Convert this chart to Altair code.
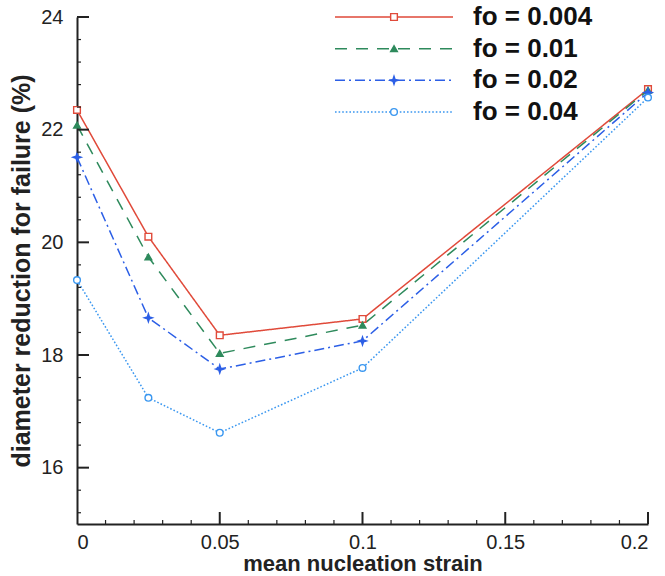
import altair as alt
import pandas as pd

# Mean nucleation strain (x) and diameter reduction at failure (%) per void volume fraction
strain = [0.0, 0.025, 0.05, 0.1, 0.2]
series_names = ["fo = 0.004", "fo = 0.01", "fo = 0.02", "fo = 0.04"]
fo_0004 = [22.35, 20.10, 18.35, 18.64, 22.72]
fo_001 = [22.08, 19.74, 18.03, 18.53, 22.70]
fo_002 = [21.51, 18.66, 17.75, 18.25, 22.66]
fo_004 = [19.33, 17.24, 16.62, 17.77, 22.57]

x_major = [0.0, 0.05, 0.1, 0.15, 0.2]
y_major = [16, 18, 20, 22, 24]
x_minor = [round(0.01 * i, 2) for i in range(1, 20) if i % 5 != 0]
y_minor = [round(15.2 + 0.4 * i, 1) for i in range(22) if (i - 2) % 5 != 0]

colors = ["#e04a3a", "#2e8a5c", "#2c5fe6", "#3a97f0"]
dashes = [[1, 0], [12, 9], [10, 4, 2, 4], [1.6, 2]]
star = "M0,-1.2L0.3,-0.3L1.2,0L0.3,0.3L0,1.2L-0.3,0.3L-1.2,0L-0.3,-0.3Z"
shapes = ["square", "triangle-up", star, "circle"]
fills = ["white", "#2e8a5c", "#2c5fe6", "white"]

rows = []
for name, vals in zip(series_names, [fo_0004, fo_001, fo_002, fo_004]):
    for s, v in zip(strain, vals):
        rows.append({"series": name, "strain": s, "value": v})
df = pd.DataFrame(rows)
legend_df = pd.DataFrame({"series": series_names})

W, H = 571, 507
FONT = "Liberation Sans"
INK = "#222222"

x_scale = alt.Scale(domain=[0, 0.2], nice=False, zero=False)
y_scale = alt.Scale(domain=[15, 24], nice=False, zero=False)
color_scale = alt.Scale(domain=series_names, range=colors)
dash_scale = alt.Scale(domain=series_names, range=dashes)
shape_scale = alt.Scale(domain=series_names, range=shapes)
fill_scale = alt.Scale(domain=series_names, range=fills)

x_enc = alt.X(
    "strain:Q", scale=x_scale,
    axis=alt.Axis(
        values=x_major, format=".2~f", ticks=False, tickSize=0, grid=False,
        domainColor=INK, domainWidth=2, labelFont=FONT, labelFontSize=20,
        labelColor=INK, labelPadding=8, title="mean nucleation strain",
        titleFont=FONT, titleFontSize=22, titleFontWeight="bold", titleColor=INK,
        titleBaseline="middle", titleY=39,
    ),
)
y_enc = alt.Y(
    "value:Q", scale=y_scale,
    axis=alt.Axis(
        values=y_major, format="d", ticks=False, tickSize=0, grid=False,
        domainColor=INK, domainWidth=2, labelFont=FONT, labelFontSize=20,
        labelColor=INK, labelPadding=14, title="diameter reduction for failure (%)",
        titleFont=FONT, titleFontSize=25, titleFontWeight="bold", titleColor=INK,
        titleAngle=270, titleBaseline="middle", titleAlign="center",
        titleX=-56, titleY=H / 2,
    ),
)

lines = alt.Chart(df).mark_line(strokeWidth=1.5).encode(
    x=x_enc, y=y_enc,
    color=alt.Color("series:N", scale=color_scale, legend=None),
    strokeDash=alt.StrokeDash("series:N", scale=dash_scale, legend=None),
    detail="series:N",
)
points = alt.Chart(df).mark_point(size=45, strokeWidth=1.4, opacity=1).encode(
    x="strain:Q", y="value:Q",
    stroke=alt.Stroke("series:N", scale=color_scale, legend=None),
    fill=alt.Fill("series:N", scale=fill_scale, legend=None),
    shape=alt.Shape("series:N", scale=shape_scale, legend=None),
)

# inward-pointing tick marks on both axes
y_ticks_major = alt.Chart(pd.DataFrame({"value": y_major})).mark_rule(
    color=INK, strokeWidth=2).encode(y="value:Q", x=alt.value(0), x2=alt.value(12))
y_ticks_minor = alt.Chart(pd.DataFrame({"value": y_minor})).mark_rule(
    color=INK, strokeWidth=1.2).encode(y="value:Q", x=alt.value(0), x2=alt.value(4))
x_ticks_major = alt.Chart(pd.DataFrame({"strain": x_major[1:]})).mark_rule(
    color=INK, strokeWidth=2).encode(x="strain:Q", y=alt.value(H), y2=alt.value(H - 12))
x_ticks_minor = alt.Chart(pd.DataFrame({"strain": x_minor})).mark_rule(
    color=INK, strokeWidth=1.2).encode(x="strain:Q", y=alt.value(H), y2=alt.value(H - 4))

plot = alt.layer(lines, points, y_ticks_major, y_ticks_minor, x_ticks_major, x_ticks_minor)

# legend block in the upper right
leg_y = alt.Y("series:N", scale=alt.Scale(type="point", domain=series_names,
                                          range=[0, 95], padding=0), axis=None)
leg_lines = alt.Chart(legend_df).mark_rule(strokeWidth=1.5).encode(
    y=leg_y, x=alt.value(258), x2=alt.value(376),
    color=alt.Color("series:N", scale=color_scale, legend=None),
    strokeDash=alt.StrokeDash("series:N", scale=dash_scale, legend=None),
)
leg_points = alt.Chart(legend_df).mark_point(size=45, strokeWidth=1.4, opacity=1).encode(
    y=leg_y, x=alt.value(317),
    stroke=alt.Stroke("series:N", scale=color_scale, legend=None),
    fill=alt.Fill("series:N", scale=fill_scale, legend=None),
    shape=alt.Shape("series:N", scale=shape_scale, legend=None),
)
leg_text = alt.Chart(legend_df).mark_text(
    align="left", baseline="middle", font=FONT, fontSize=26, fontWeight="bold",
    color="#111111").encode(y=leg_y, x=alt.value(396), text="series:N")
legend = alt.layer(leg_lines, leg_points, leg_text)

chart = alt.layer(plot, legend).resolve_scale(y="independent").properties(
    width=W, height=H,
    autosize=alt.AutoSizeParams(type="none"),
    padding={"left": 77, "top": 17, "right": 17, "bottom": 52},
    background="white",
).configure_view(stroke=None)

chart.save("out.html", embed_options={"renderer": "svg", "actions": False})
